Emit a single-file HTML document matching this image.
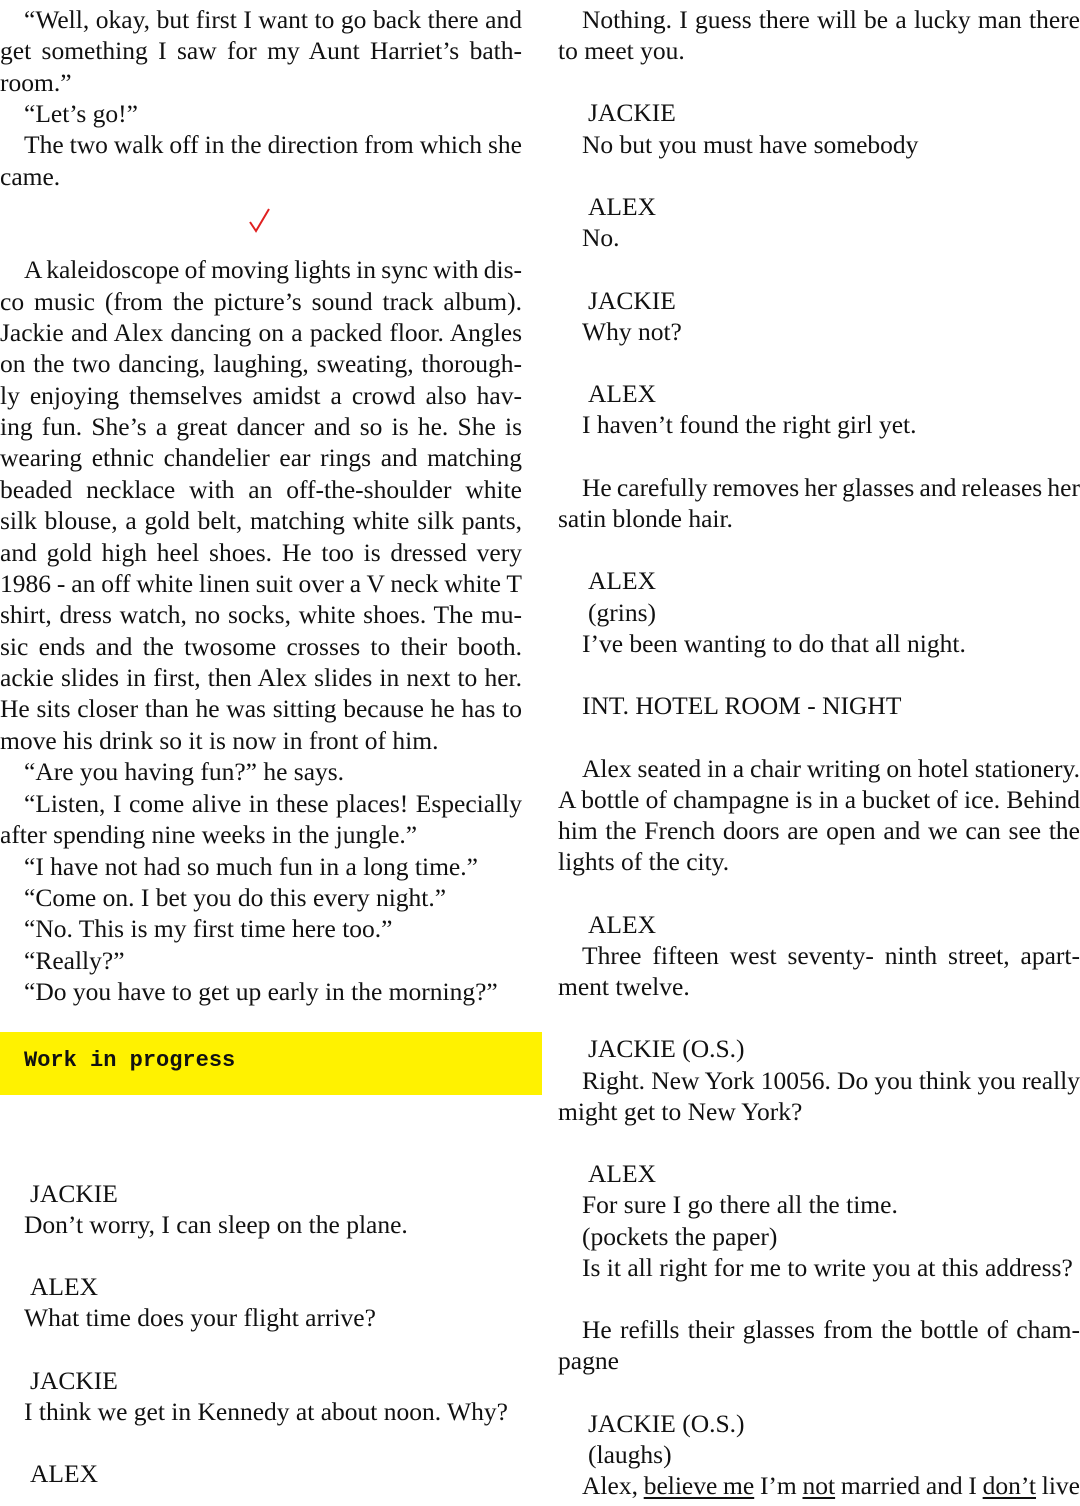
<!DOCTYPE html>
<html><head><meta charset="utf-8"><style>
html,body{margin:0;padding:0;background:#fff;}
body{width:1080px;height:1506px;position:relative;overflow:hidden;font-family:"Liberation Serif",serif;font-size:25.5px;color:#111;}
.t{position:absolute;line-height:30px;white-space:nowrap;}
.j{white-space:normal;text-align:justify;text-align-last:justify;height:30px;overflow:visible;word-spacing:-3px;}
.L{left:0;width:522px;}
.R{left:558px;width:522px;}
.Li{left:24px;width:498px;}
.Ri{left:582px;width:498px;}
u{text-decoration:underline;text-underline-offset:3px;}
</style></head><body>
<div class="t j Li" style="top:5px">“Well, okay, but first I want to go back there and</div>
<div class="t j L" style="top:36px">get something I saw for my Aunt Harriet’s bath-</div>
<div class="t" style="left:0;top:68px">room.”</div>
<div class="t" style="left:24px;top:99px">“Let’s go!”</div>
<div class="t j Li" style="top:130px">The two walk off in the direction from which she</div>
<div class="t" style="left:0;top:162px">came.</div>
<svg style="position:absolute;left:248px;top:206px" width="24" height="28"><path d="M2 16 L8 25 L21 3" stroke="#e02020" stroke-width="2" fill="none"/></svg>
<div class="t j Li" style="top:255px">A kaleidoscope of moving lights in sync with dis-</div>
<div class="t j L" style="top:287px">co music (from the picture’s sound track album).</div>
<div class="t j L" style="top:318px">Jackie and Alex dancing on a packed floor. Angles</div>
<div class="t j L" style="top:349px">on the two dancing, laughing, sweating, thorough-</div>
<div class="t j L" style="top:381px">ly enjoying themselves amidst a crowd also hav-</div>
<div class="t j L" style="top:412px">ing fun. She’s a great dancer and so is he. She is</div>
<div class="t j L" style="top:443px">wearing ethnic chandelier ear rings and matching</div>
<div class="t j L" style="top:475px">beaded necklace with an off-the-shoulder white</div>
<div class="t j L" style="top:506px">silk blouse, a gold belt, matching white silk pants,</div>
<div class="t j L" style="top:538px">and gold high heel shoes. He too is dressed very</div>
<div class="t j L" style="top:569px">1986 - an off white linen suit over a V neck white T</div>
<div class="t j L" style="top:600px">shirt, dress watch, no socks, white shoes. The mu-</div>
<div class="t j L" style="top:632px">sic ends and the twosome crosses to their booth.</div>
<div class="t j L" style="top:663px">ackie slides in first, then Alex slides in next to her.</div>
<div class="t j L" style="top:694px">He sits closer than he was sitting because he has to</div>
<div class="t" style="left:0;top:726px">move his drink so it is now in front of him.</div>
<div class="t" style="left:24px;top:757px">“Are you having fun?” he says.</div>
<div class="t j Li" style="top:789px">“Listen, I come alive in these places! Especially</div>
<div class="t" style="left:0;top:820px">after spending nine weeks in the jungle.”</div>
<div class="t" style="left:24px;top:852px">“I have not had so much fun in a long time.”</div>
<div class="t" style="left:24px;top:883px">“Come on. I bet you do this every night.”</div>
<div class="t" style="left:24px;top:914px">“No. This is my first time here too.”</div>
<div class="t" style="left:24px;top:946px">“Really?”</div>
<div class="t" style="left:24px;top:977px">“Do you have to get up early in the morning?”</div>
<div style="position:absolute;left:0;top:1032px;width:542px;height:63px;background:#fff200;"></div>
<div class="t" style="left:24px;top:1046px;font-family:'Liberation Mono',monospace;font-size:22px;font-weight:bold;">Work in progress</div>
<div class="t" style="left:30px;top:1179px">JACKIE</div>
<div class="t" style="left:24px;top:1210px">Don’t worry, I can sleep on the plane.</div>
<div class="t" style="left:30px;top:1272px">ALEX</div>
<div class="t" style="left:24px;top:1303px">What time does your flight arrive?</div>
<div class="t" style="left:30px;top:1366px">JACKIE</div>
<div class="t" style="left:24px;top:1397px">I think we get in Kennedy at about noon. Why?</div>
<div class="t" style="left:30px;top:1459px">ALEX</div>

<div class="t j Ri" style="top:5px">Nothing. I guess there will be a lucky man there</div>
<div class="t" style="left:558px;top:36px">to meet you.</div>
<div class="t" style="left:588px;top:98px">JACKIE</div>
<div class="t" style="left:582px;top:130px">No but you must have somebody</div>
<div class="t" style="left:588px;top:192px">ALEX</div>
<div class="t" style="left:582px;top:223px">No.</div>
<div class="t" style="left:588px;top:286px">JACKIE</div>
<div class="t" style="left:582px;top:317px">Why not?</div>
<div class="t" style="left:588px;top:379px">ALEX</div>
<div class="t" style="left:582px;top:410px">I haven’t found the right girl yet.</div>
<div class="t j Ri" style="top:473px">He carefully removes her glasses and releases her</div>
<div class="t" style="left:558px;top:504px">satin blonde hair.</div>
<div class="t" style="left:588px;top:566px">ALEX</div>
<div class="t" style="left:588px;top:598px">(grins)</div>
<div class="t" style="left:582px;top:629px">I’ve been wanting to do that all night.</div>
<div class="t" style="left:582px;top:691px">INT. HOTEL ROOM - NIGHT</div>
<div class="t j Ri" style="top:754px">Alex seated in a chair writing on hotel stationery.</div>
<div class="t j R" style="top:785px">A bottle of champagne is in a bucket of ice. Behind</div>
<div class="t j R" style="top:816px">him the French doors are open and we can see the</div>
<div class="t" style="left:558px;top:847px">lights of the city.</div>
<div class="t" style="left:588px;top:910px">ALEX</div>
<div class="t j Ri" style="top:941px">Three fifteen west seventy- ninth street, apart-</div>
<div class="t" style="left:558px;top:972px">ment twelve.</div>
<div class="t" style="left:588px;top:1034px">JACKIE (O.S.)</div>
<div class="t j Ri" style="top:1066px">Right. New York 10056. Do you think you really</div>
<div class="t" style="left:558px;top:1097px">might get to New York?</div>
<div class="t" style="left:588px;top:1159px">ALEX</div>
<div class="t" style="left:582px;top:1190px">For sure I go there all the time.</div>
<div class="t" style="left:582px;top:1222px">(pockets the paper)</div>
<div class="t" style="left:582px;top:1253px">Is it all right for me to write you at this address?</div>
<div class="t j Ri" style="top:1315px">He refills their glasses from the bottle of cham-</div>
<div class="t" style="left:558px;top:1346px">pagne</div>
<div class="t" style="left:588px;top:1409px">JACKIE (O.S.)</div>
<div class="t" style="left:588px;top:1440px">(laughs)</div>
<div class="t j Ri" style="top:1471px">Alex, <u>believe me</u> I’m <u>not</u> married and I <u>don’t</u> live</div>
</body></html>
